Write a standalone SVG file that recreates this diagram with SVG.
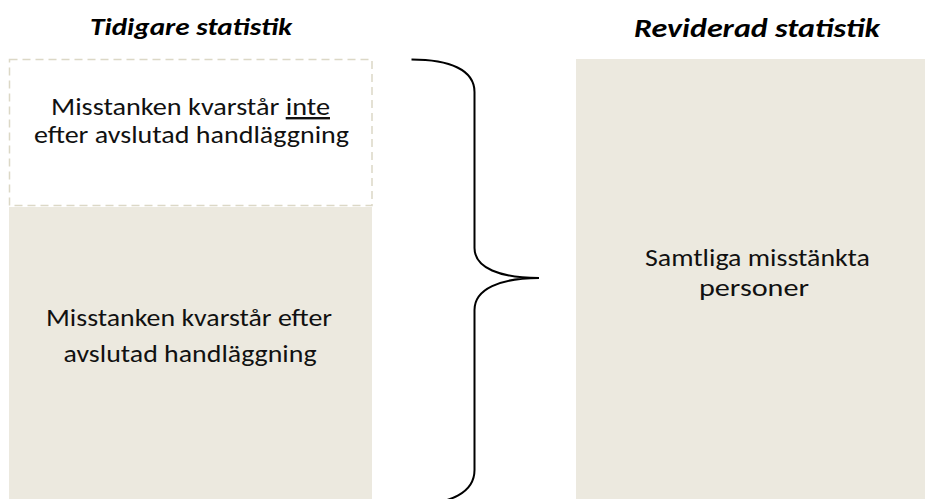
<svg xmlns="http://www.w3.org/2000/svg" width="925" height="499" viewBox="0 0 925 499">
<style>
.title{font-family:Carlito,Lato,"Liberation Sans",sans-serif;font-weight:bold;font-style:italic;fill:#000;text-anchor:middle}
.body{font-family:Carlito,Lato,"Liberation Sans",sans-serif;font-size:24px;fill:#111;text-anchor:middle}
.fill{fill:#ECE9DF}
.brace{fill:none;stroke:#000;stroke-width:2}
</style>
<rect width="925" height="499" fill="#fff"/>
<text class="title" x="191" y="35" font-size="25" textLength="202" lengthAdjust="spacingAndGlyphs">Tidigare statistik</text>
<text class="title" x="757" y="37" font-size="27" textLength="246" lengthAdjust="spacingAndGlyphs">Reviderad statistik</text>
<g id="node-inte">
<rect x="9.5" y="59.5" width="362.5" height="146" fill="#fff" stroke="#DCD8C6" stroke-width="1.5" stroke-dasharray="8 5"/>
<text class="body" x="190.5" y="115" textLength="279" lengthAdjust="spacingAndGlyphs">Misstanken kvarstår <tspan text-decoration="underline">inte</tspan></text>
<text class="body" x="191.5" y="143" textLength="315" lengthAdjust="spacingAndGlyphs">efter avslutad handläggning</text>
</g>
<g id="node-kvarstar">
<rect class="fill" x="9" y="207" width="363" height="292"/>
<text class="body" x="189" y="326" textLength="286" lengthAdjust="spacingAndGlyphs">Misstanken kvarstår efter</text>
<text class="body" x="190" y="362" textLength="253" lengthAdjust="spacingAndGlyphs">avslutad handläggning</text>
</g>
<g id="node-samtliga">
<rect class="fill" x="576" y="59" width="349" height="440"/>
<text class="body" x="757.5" y="266" textLength="225" lengthAdjust="spacingAndGlyphs">Samtliga misstänkta</text>
<text class="body" x="754" y="296" textLength="110" lengthAdjust="spacingAndGlyphs">personer</text>
</g>
<g id="connectors">
<path class="brace" d="M411.5 59.5 C450 59.5 474.5 70 474.5 92 L474.5 248 C474.5 268 500 278 539 278 C500 278 474.5 289 474.5 310 L474.5 470 C474.5 492 452 504 411.5 505"/>
</g>
</svg>
